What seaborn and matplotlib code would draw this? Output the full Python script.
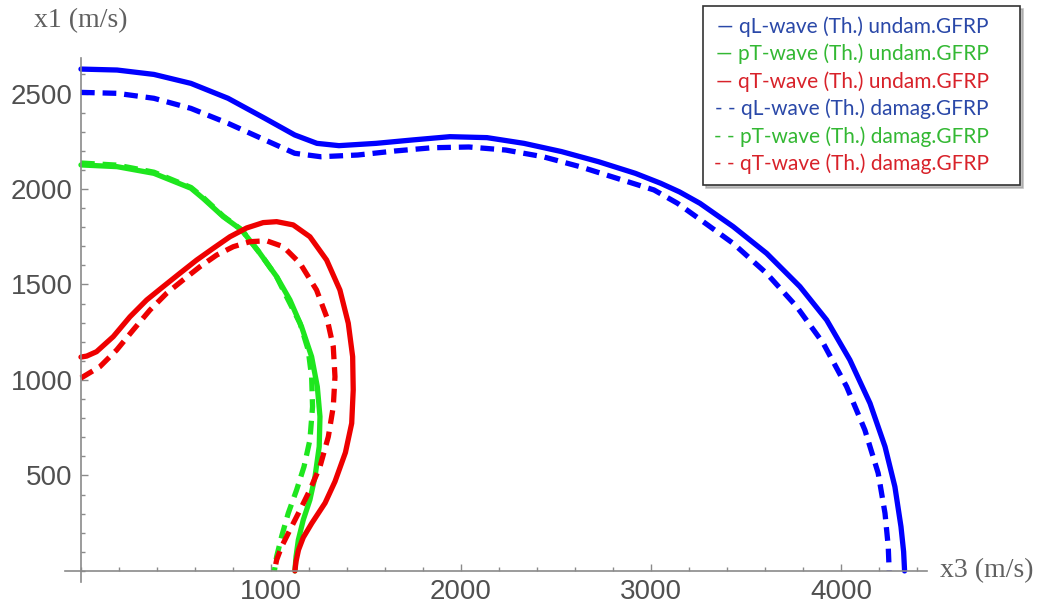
import matplotlib
matplotlib.use('Agg')
import matplotlib.pyplot as plt
import numpy as np
import pandas as pd
import seaborn as sns
from matplotlib.lines import Line2D
from matplotlib.ticker import MultipleLocator

# values (x3, x1 in m/s)
QL_UNDAM_X3 = [0, 190, 384, 579, 774, 968, 1125, 1242, 1358, 1553, 1747, 1942, 2137, 2332, 2529,
               2724, 2918, 3051, 3150, 3258, 3433, 3609, 3784, 3925, 4047, 4153, 4232, 4284, 4316,
               4330, 4335]
QL_UNDAM_X1 = [2628, 2623, 2600, 2553, 2475, 2370, 2283, 2239, 2227, 2239, 2257, 2274, 2269, 2239, 2196,
               2143, 2082, 2030, 1985, 1925, 1803, 1663, 1489, 1314, 1105, 878, 651, 441, 232,
               100, 0]

QL_DAMAG_X3 = [0, 190, 384, 579, 774, 968, 1125, 1262, 1457, 1652, 1847, 2042, 2236, 2432, 2626,
               2821, 3016, 3140, 3258, 3433, 3609, 3767, 3907, 4030, 4126, 4196, 4232, 4249, 4254]
QL_DAMAG_X1 = [2506, 2501, 2475, 2422, 2344, 2257, 2187, 2169, 2178, 2199, 2216, 2220, 2204, 2169, 2117,
               2056, 1995, 1925, 1841, 1715, 1558, 1384, 1192, 965, 738, 512, 302, 127, 0]

PT_UNDAM_X3 = [0, 190, 384, 579, 644, 749, 846, 942, 1030, 1100, 1161, 1214, 1244, 1258, 1254, 1232,
               1205, 1170, 1144, 1132, 1126]
PT_UNDAM_X1 = [2126, 2117, 2082, 2004, 1950, 1855, 1785, 1663, 1541, 1419, 1279, 1122, 965, 808, 651, 494,
               372, 267, 162, 75, 0]

PT_DAMAG_X3 = [0, 190, 384, 579, 644, 749, 846, 942, 1030, 1082, 1153, 1196, 1214, 1219, 1205, 1174,
               1135, 1091, 1056, 1030, 1018]
PT_DAMAG_X1 = [2136, 2125, 2088, 2008, 1955, 1858, 1786, 1664, 1540, 1436, 1297, 1157, 1017, 860, 686, 546,
               424, 302, 180, 75, 0]

QT_UNDAM_X3 = [0, 30, 82, 170, 258, 346, 433, 521, 609, 697, 784, 872, 959, 1030, 1117, 1205, 1293,
               1363, 1407, 1430, 1433, 1425, 1392, 1337, 1285, 1215, 1170, 1145, 1132, 1126]
QT_UNDAM_X1 = [1120, 1125, 1148, 1227, 1331, 1419, 1489, 1559, 1628, 1690, 1750, 1796, 1824, 1829, 1812,
               1750, 1628, 1471, 1297, 1122, 948, 773, 620, 468, 356, 250, 175, 110, 50, 0]

QT_DAMAG_X3 = [0, 100, 188, 275, 363, 451, 538, 626, 714, 802, 889, 977, 1065, 1153, 1240, 1293, 1328,
               1337, 1328, 1302, 1258, 1205, 1153, 1100, 1056, 1030, 1018]
QT_DAMAG_X1 = [1010, 1070, 1157, 1262, 1366, 1454, 1524, 1593, 1654, 1698, 1724, 1729, 1698, 1611, 1471,
               1331, 1174, 1017, 860, 703, 546, 424, 319, 215, 127, 58, 0]

WAVES = ['qL-wave', 'pT-wave', 'qT-wave']
STATES = ['undam.GFRP', 'damag.GFRP']
LINE_COLORS = {'qL-wave': '#0000ff', 'pT-wave': '#1ee61e', 'qT-wave': '#ee0000'}
TEXT_COLORS = {'qL-wave': '#2a48a8', 'pT-wave': '#33b833', 'qT-wave': '#d8222a'}


def build_frame():
    curves = {
        ('qL-wave', 'undam.GFRP'): (QL_UNDAM_X3, QL_UNDAM_X1),
        ('pT-wave', 'undam.GFRP'): (PT_UNDAM_X3, PT_UNDAM_X1),
        ('qT-wave', 'undam.GFRP'): (QT_UNDAM_X3, QT_UNDAM_X1),
        ('qL-wave', 'damag.GFRP'): (QL_DAMAG_X3, QL_DAMAG_X1),
        ('pT-wave', 'damag.GFRP'): (PT_DAMAG_X3, PT_DAMAG_X1),
        ('qT-wave', 'damag.GFRP'): (QT_DAMAG_X3, QT_DAMAG_X1),
    }
    frames = []
    for (wave, state), (x3, x1) in curves.items():
        frames.append(pd.DataFrame({'x3': x3, 'x1': x1, 'wave': wave, 'state': state}))
    return pd.concat(frames, ignore_index=True)


def main():
    df = build_frame()

    sns.set_style('white')
    plt.rcParams['font.family'] = ['Liberation Sans', 'DejaVu Sans']

    fig = plt.figure(figsize=(10.42, 6.09), dpi=100)
    ax = fig.add_axes([65 / 1042, 27 / 609, 862 / 1042, 524 / 609])

    sns.lineplot(data=df, x='x3', y='x1', hue='wave', style='state', hue_order=WAVES,
                 style_order=STATES, palette=LINE_COLORS,
                 dashes={'undam.GFRP': '', 'damag.GFRP': (2.6, 1.5)},
                 sort=False, estimator=None, linewidth=3.8, legend=False, ax=ax,
                 solid_joinstyle='round')

    ax.set_xlim(-84, 4453)
    ax.set_ylim(-58, 2686)

    # axes crossing at the origin, Mathematica style
    for side in ['top', 'right']:
        ax.spines[side].set_visible(False)
    ax.spines['left'].set_position(('data', 0))
    ax.spines['bottom'].set_position(('data', 0))
    for side in ['left', 'bottom']:
        ax.spines[side].set_color('#8a8a8a')
        ax.spines[side].set_linewidth(1.2)

    ax.set_xticks([1000, 2000, 3000, 4000])
    ax.set_yticks([500, 1000, 1500, 2000, 2500])
    ax.xaxis.set_minor_locator(MultipleLocator(200))
    ax.yaxis.set_minor_locator(MultipleLocator(100))
    ax.tick_params(which='both', direction='in', color='#8a8a8a', width=1,
                   labelsize=20, labelcolor='#505050', left=True, bottom=True)
    ax.tick_params(which='major', length=5, pad=6)
    ax.tick_params(which='minor', length=3)
    ax.set_xlabel('')
    ax.set_ylabel('')

    ax.text(1.015, 0, 'x3 (m/s)', transform=ax.get_yaxis_transform(), va='center', ha='left',
            fontsize=20, color='#606060', family=['Liberation Serif', 'DejaVu Serif'])
    ax.text(0, 1.072, 'x1 (m/s)', transform=ax.get_xaxis_transform(), va='center', ha='center',
            fontsize=20, color='#606060', family=['Liberation Serif', 'DejaVu Serif'])

    handles, labels, colors = [], [], []
    for state, mark in zip(STATES, ['\u2014 ', '- - ']):
        for wave in WAVES:
            handles.append(Line2D([], [], lw=0))
            labels.append(f'{mark}{wave} (Th.) {state}')
            colors.append(TEXT_COLORS[wave])
    leg = ax.legend(handles, labels, loc='upper right', bbox_to_anchor=(1020 / 1042, 1 - 6 / 609),
                    bbox_transform=fig.transFigure, borderaxespad=0, markerfirst=False,
                    handlelength=1.0, handletextpad=0,
                    labelcolor=colors, fancybox=False, frameon=True, edgecolor='#333333',
                    prop={'family': ['Lato', 'DejaVu Sans'], 'size': 15}, labelspacing=0.33,
                    borderpad=0.5, shadow={'color': '0.6', 'alpha': 0.6, 'ox': 2, 'oy': -2})
    leg.get_frame().set_linewidth(1.2)

    fig.savefig('out.png', dpi=100, facecolor='white')


if __name__ == '__main__':
    main()
